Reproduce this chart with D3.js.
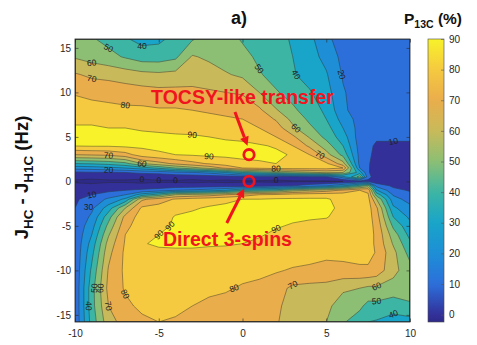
<!DOCTYPE html>
<html>
<head>
<meta charset="utf-8">
<script src="https://cdn.jsdelivr.net/npm/d3@7"></script>
<style>
  body { margin: 0; background: #fff; }
  svg text { font-family: "Liberation Sans", Arial, sans-serif; }
</style>
</head>
<body>
<svg id="chart" width="477" height="345"></svg>
<script>
// grid positions (Hz) and P13C values (%)
const xVals = [-10,-9,-8,-7,-6,-5,-4,-3,-2,-1,0,1,2,3,4,5,6,7,7.5,8,9,10]
const yVals = [16,14,12,10,8,7,6,5,4,3,2,1.5,1,0.5,0,-0.5,-1,-1.5,-2,-3,-4,-5,-6,-7,-8,-10,-12,-14,-15.8]
const levels = [0,10,20,30,40,50,60,70,80,90]
const xTicks = [-10,-5,0,5,10]
const yTicks = [-15,-10,-5,0,5,10,15]
const cbTicks = [0,10,20,30,40,50,60,70,80,90]
const cRange = [-2.4, 90]

// one row per yVals entry, one column per xVals entry
const pGrid = [
  [55,51,47,41,37,38,43,49,54,54,49,46,43,39,33,22,16,15,15,15,15,15],
  [59,56,53,49,45,45,48,61,58,55,53,48,44,40,34,27,17,15,15,15,15,15],
  [71,68,67,65,63,62,63,66,65,61,58,51,46,41,36,31,19,15,15,15,15,15],
  [79,77,76,75,74,73,73,72,71,70,69,60,51,46,41,34,21,15,15,15,15,15],
  [85,84,83,82,82,81,81,80,79,78,76,72,61,52,45,38,22,15,15,15,15,15],
  [88,88,87,86,85,85,84,83,82,81,80,76,69,57,48,40,26,16,15,15,15,15],
  [91,91,90,90,89,88,88,87,86,85,84,80,75,62,52,44,30,16,15,15,15,15],
  [93,93,93,92,92,92,91,91,90,89,88,85,80,72,59,47,35,15,15,12,12,12],
  [90.5,91,91,92,92,93,93,93,93,92,92,91,89,80,68,55,40,16,13,8,8,8],
  [70,71,72,76,85,88,90,91,92,92,92,92,92,89,80,64,47,17,12,7,6,6],
  [40,41,43,47,60,66,72,77,81,85,88,89,90,89,85,82,64,17,11,6,5,5],
  [24,25,27,30,35,42,50,56,63,72,80,82,84,84,84,84,80,20,11,5,4,4],
  [8,9,9,10,12,13,17,19,23,30,40,45,50,55,58,62,60,35,11,5,4,4],
  [2,2,2,2,2,3,3,3,4,4,5,5,5,6,7,8,25,55,13,5,4,4],
  [-1,-2,-1,-1,-2,-1,-1,-2,-1,-2,-1,-1,-2,-1,-1,-1,0,5,8,4,3,2],
  [2,2,3,3,3,3,4,4,5,5,5,6,8,10,15,20,30,45,55,17,8,5],
  [5,6,8,10,12,15,20,22,25,30,40,42,45,55,60,65,72,80,78,31,13,9],
  [8,10,14,20,35,45,60,63,65,70,75,80,82,85,86,86,85,85,81,46,19,13],
  [9,13,22,32,68,75,81,84,86,88,90,90,91,91,91,91,87,86,83,60,24,16],
  [10,18,35,60,82,84,88,89,91,92,92,92,93,93,93,92,88,87,84,72,32,23],
  [11,22,46,73,85,87,90.5,92,93,93,93,93,93,92,91,90.5,87,86,84,75,40,28],
  [12,26,53,77,86,88,91,93,93,93,93,92,91,89,88,87,86,86,84,77,48,33],
  [12,30,59,80,87,90,92,93,93,92,92,91,88,88,87,86,85,85,84,78,55,37],
  [12,34,64,81,89,92,92,92,91,91,90,88,87,87,86,85,84,84,84,78,59,42],
  [12,37,67,82,86,87,88,88,88,87,87,86,85,85,84,83,83,84,84,79,63,46],
  [12,42,71,82,86,86,87,86,85,84,83,82,81,79,78,76,77,78,78,76,63,54],
  [12,46,73,81,85,85,86,84,82,81,79,78,74,68,67,67,62,60,58,58,56,56],
  [12,46,70,78,82,83,82,80,78,77,76,75,72,66,65,63,54,52,47,47,44,48],
  [12,44,66,74,78,80,79,77,75,74,73,73,71,65,63,60,51,45,40,39,36,36]
]

// inline contour labels: [x, y, level]
const labelSpots = [
  [-6.1,15.3,40],[-7.7,14.6,50],[-9.0,13.6,60],[-9.2,12.0,70],[-7.2,8.5,80],
  [-3.3,4.9,90],[-2.5,2.4,90],[-8.3,3.1,70],[-5.9,2.1,60],[-8.1,1.4,20],
  [-6.1,0.1,0],[-4.5,0.1,0],[-3.6,0.6,0],[2.4,0.1,0],
  [0.75,12.7,50],[3.0,12.5,40],[5.5,12.3,20],[3.4,5.7,60],[4.6,2.9,70],[2.4,1.6,80],[8.6,3.6,10],
  [-8.8,-1.3,10],[-9.2,-2.9,30],[-9.2,-11.4,50],[-8.6,-11.4,60],[-9.4,-14.4,40],[-8.0,-13.1,70],[-7.0,-13.1,80],
  [-5.2,-5.5,90],[-4.2,-5.1,90],[1.5,-4.7,90],[-0.7,-11.6,80],[2.8,-11.4,70],[8.0,-11.4,60],[8.4,-12.8,50],[9.0,-14.2,40]
]

// red annotations
const noteText = ['TOCSY-like transfer', 'Direct 3-spins']
const noteAt = [[0, 8.75], [-0.9, -7.25]]
const circleAt = [[0.39, 3.0], [0.39, 0.0]]
const arrowFromTo = [[-0.45, 7.8, 0.3, 4.0], [-0.94, -4.67, 0.1, -0.8]]

// colour map keyed on P13C value (parula-like, as it shows in the figure)
const cStopVal = [-2.4, 0, 10, 20, 30, 40, 50, 60, 70, 80, 90]
const cStopCol = ['#2e2a8a','#33309a','#2c6fdb','#1e8fd6','#19a4c9','#3db5a4','#8cbf74','#c8ba5a','#eaad4c','#f5c940','#f8f22a']

let plot = {left: 75, top: 39, right: 410, bottom: 322}
let bar = {left: 428, right: 444}
let svg = d3.select('#chart')

let scX = d3.scaleLinear().domain([-10, 10]).range([plot.left, plot.right])
let scY = d3.scaleLinear().domain([-15.8, 16]).range([plot.bottom, plot.top])
let cmap = d3.scaleLinear().domain(cStopVal).range(cStopCol).interpolate(d3.interpolateRgb).clamp(true)

// grid index -> data value (piecewise, rows are not evenly spaced)
let nx = xVals.length, ny = yVals.length
let colAt = d3.scaleLinear().domain(d3.range(nx)).range(xVals).clamp(true)
let rowAt = d3.scaleLinear().domain(d3.range(ny)).range(yVals).clamp(true)
let toPx = p => [scX(colAt(p[0] - 0.5)), scY(rowAt(p[1] - 0.5))]

let flat = pGrid.flat()
let gen = d3.contours().size([nx, ny]).smooth(true)
let proj = d3.geoTransform({point: function(x, y) { let q = toPx([x, y]); this.stream.point(q[0], q[1]) }})
let path = d3.geoPath(proj)

svg.append('clipPath').attr('id', 'clip').append('rect')
  .attr('x', plot.left).attr('y', plot.top)
  .attr('width', plot.right - plot.left).attr('height', plot.bottom - plot.top)

let g = svg.append('g').attr('clip-path', 'url(#clip)')

// filled bands, lowest first
;[cRange[0]].concat(levels).forEach(t => {
  g.append('path').attr('d', path(gen.contour(flat, t))).attr('fill', cmap(t)).attr('stroke', cmap(t)).attr('stroke-width', 0.3)
})
// contour lines
let rings = {}
levels.forEach(t => {
  let mp = gen.contour(flat, t)
  g.append('path').attr('d', path(mp)).attr('fill', 'none')
    .attr('stroke', '#2a2a2a').attr('stroke-width', 0.55).attr('stroke-opacity', 0.8)
  rings[t] = []
  mp.coordinates.forEach(poly => poly.forEach(r => rings[t].push(r.map(toPx))))
})

// labels snapped to the nearest point on their line
labelSpots.forEach(([lx, ly, lv]) => {
  let tx = scX(lx), ty = scY(ly), best = null, bd = Infinity
  rings[lv].forEach(pts => {
    pts.forEach((p, i) => {
      if (p[0] <= plot.left + 1 || p[0] >= plot.right - 1 || p[1] <= plot.top + 1 || p[1] >= plot.bottom - 1) return
      let d = (p[0] - tx) ** 2 + (p[1] - ty) ** 2
      if (d < bd) { bd = d; best = {pts, i} }
    })
  })
  let px = tx, py = ty, ang = 0
  if (best && bd < 144) {
    let {pts, i} = best, n = pts.length
    let a = pts[(i - 2 + n) % n], b = pts[(i + 2) % n]
    px = pts[i][0]; py = pts[i][1]
    ang = Math.atan2(b[1] - a[1], b[0] - a[0]) * 180 / Math.PI
    if (ang > 90) ang -= 180
    if (ang < -90) ang += 180
  }
  g.append('text').attr('transform', `translate(${px},${py}) rotate(${ang})`)
    .attr('text-anchor', 'middle').attr('dy', '0.35em')
    .attr('font-size', 8.5).attr('fill', '#1e1e1e').text(lv)
})

// axes box + inward ticks on all sides
let axG = svg.append('g').attr('font-size', 13.5)
axG.append('g').attr('transform', `translate(0,${plot.bottom})`)
  .call(d3.axisBottom(scX).tickValues(xTicks).tickSize(-3.5).tickPadding(8).tickFormat(d3.format('d')))
axG.append('g').attr('transform', `translate(${plot.left},0)`)
  .call(d3.axisLeft(scY).tickValues(yTicks).tickSize(-3.5).tickPadding(4).tickFormat(d3.format('d')))
axG.append('g').attr('transform', `translate(0,${plot.top})`)
  .call(d3.axisTop(scX).tickValues(xTicks).tickSize(-3.5).tickFormat(''))
axG.append('g').attr('transform', `translate(${plot.right},0)`)
  .call(d3.axisRight(scY).tickValues(yTicks).tickSize(-3.5).tickFormat(''))
axG.selectAll('.domain').remove()
axG.selectAll('line').attr('stroke', '#262626').attr('stroke-width', 0.6)
axG.selectAll('text').attr('fill', '#262626').attr('font-family', '"Liberation Sans", Arial, sans-serif').text(function() { return this.textContent.replace('−', '-') })
svg.append('rect').attr('x', plot.left).attr('y', plot.top)
  .attr('width', plot.right - plot.left).attr('height', plot.bottom - plot.top)
  .attr('fill', 'none').attr('stroke', '#262626').attr('stroke-width', 0.8)

// colorbar
let scC = d3.scaleLinear().domain(cRange).range([plot.bottom, plot.top])
let grad = svg.append('defs').append('linearGradient').attr('id', 'cbar')
  .attr('x1', 0).attr('y1', 1).attr('x2', 0).attr('y2', 0)
d3.range(0, 1.0001, 0.025).forEach(f => {
  grad.append('stop').attr('offset', f).attr('stop-color', cmap(cRange[0] + f * (cRange[1] - cRange[0])))
})
svg.append('rect').attr('x', bar.left).attr('y', plot.top)
  .attr('width', bar.right - bar.left).attr('height', plot.bottom - plot.top)
  .attr('fill', 'url(#cbar)').attr('stroke', '#4a4a4a').attr('stroke-width', 0.6)
let cb = svg.append('g').attr('transform', `translate(${bar.right},0)`).attr('font-size', 13.5)
  .call(d3.axisRight(scC).tickValues(cbTicks).tickSize(-3).tickPadding(5).tickFormat(d3.format('d')))
cb.select('.domain').remove()
cb.selectAll('line').attr('stroke', '#555').attr('stroke-width', 0.6)
cb.selectAll('text').attr('fill', '#262626').attr('font-family', '"Liberation Sans", Arial, sans-serif')

// titles
svg.append('text').attr('x', 239).attr('y', 24).attr('text-anchor', 'middle')
  .attr('font-size', 18).attr('font-weight', 'bold').attr('fill', '#111').text('a)')
let pt = svg.append('text').attr('x', 404).attr('y', 24).attr('font-size', 15.5).attr('font-weight', 'bold').attr('fill', '#111')
pt.append('tspan').text('P')
pt.append('tspan').attr('font-size', 10.5).attr('dy', 4).text('13C')
pt.append('tspan').attr('dy', -4).text(' (%)')

let yl = svg.append('text').attr('transform', `translate(28,${(plot.top + plot.bottom) / 2 - 3}) rotate(-90)`)
  .attr('text-anchor', 'middle').attr('font-size', 18.5).attr('font-weight', 'bold').attr('fill', '#111')
yl.append('tspan').text('J')
yl.append('tspan').attr('font-size', 13.5).attr('dy', 5).text('HC')
yl.append('tspan').attr('dy', -5).text(' - J')
yl.append('tspan').attr('font-size', 13.5).attr('dy', 5).text('H1C')
yl.append('tspan').attr('dy', -5).text(' (Hz)')

// red annotations
let red = '#f0141e'
let ann = svg.append('g')
noteText.forEach((t, i) => {
  ann.append('text').attr('x', scX(noteAt[i][0])).attr('y', scY(noteAt[i][1]))
    .attr('text-anchor', 'middle').attr('font-family', 'Lato, "Open Sans", sans-serif')
    .attr('font-weight', 'bold').attr('font-size', 19.5).attr('fill', red).text(t)
})
arrowFromTo.forEach(([x0, y0, x1, y1]) => {
  let ax = scX(x0), ay = scY(y0), bx = scX(x1), by = scY(y1)
  let a = Math.atan2(by - ay, bx - ax), hl = 9, hw = 4.5
  let sx = bx - hl * Math.cos(a), sy = by - hl * Math.sin(a)
  ann.append('line').attr('x1', ax).attr('y1', ay).attr('x2', sx).attr('y2', sy)
    .attr('stroke', red).attr('stroke-width', 3)
  ann.append('path').attr('fill', red)
    .attr('d', `M${bx},${by}L${sx - hw * Math.sin(a)},${sy + hw * Math.cos(a)}L${sx + hw * Math.sin(a)},${sy - hw * Math.cos(a)}Z`)
})
circleAt.forEach(([cx, cy]) => {
  ann.append('circle').attr('cx', scX(cx)).attr('cy', scY(cy)).attr('r', 5.2)
    .attr('fill', 'none').attr('stroke', red).attr('stroke-width', 2.8)
})
</script>
</body>
</html>
